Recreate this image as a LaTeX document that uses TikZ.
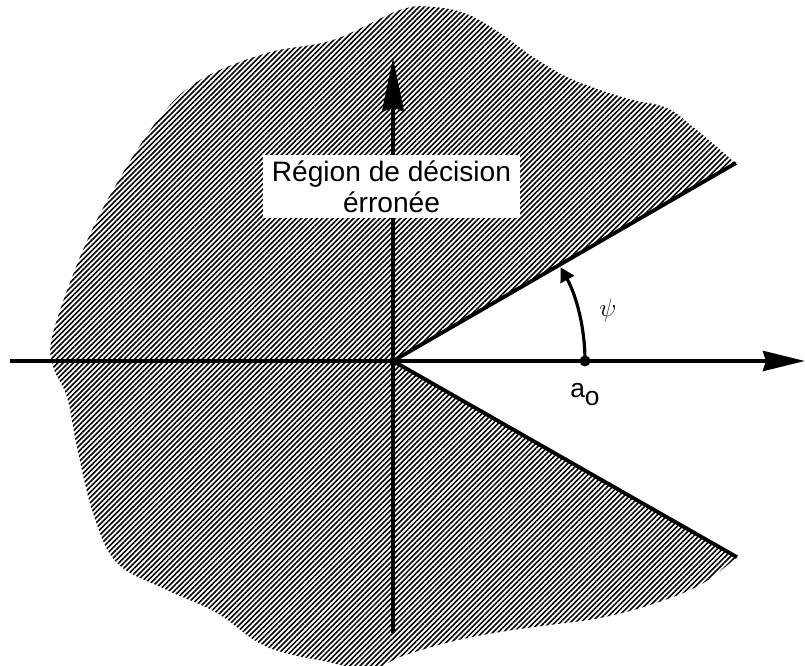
\documentclass[tikz,border=0pt]{standalone}
\usepackage{fontspec}
\setmainfont{Liberation Sans}
\usepackage{tikz}
\usetikzlibrary{arrows.meta, positioning, patterns.meta}

\begin{document}
\begin{tikzpicture}[
    axe/.style={line width=2.2pt},
    hachure/.style={pattern={Lines[angle=45, distance=2.1pt, line width=0.9pt]}},
    etiquette/.style={fill=white, align=center, inner sep=0pt,
                      minimum width=5.14cm, minimum height=1.26cm,
                      font=\fontsize{16}{17.5}\selectfont}
]
\useasboundingbox (-7.86,-6.10) rectangle (8.24,7.22);
\coordinate (O) at (0,0);
\coordinate (xl) at (-7.66,0);
\coordinate (xr) at (8.24,0);
\coordinate (yb) at (0,-5.44);
\coordinate (yt) at (0,6.06);
\coordinate (up) at (30:7.92);
\coordinate (lo) at (-29.7:7.92);
\fill[hachure] plot[smooth, tension=0.6] coordinates {
    (6.84,3.96) (6.48,4.28) (6.0,4.68) (5.48,5.06) (4.8,5.22) (4.14,5.42)
    (3.48,5.68) (2.8,6.08) (2.14,6.56) (1.48,6.94) (0.8,7.08) (0.14,7.02)
    (-1.2,6.42) (-2.52,6.16) (-3.86,5.62) (-4.66,4.88) (-5.52,3.56) (-6.2,2.22)
    (-6.8,0.56) (-6.8,-0.1) (-6.52,-0.72) (-6.32,-1.72) (-6.0,-3.04) (-5.52,-4.04)
    (-4.52,-4.58) (-3.52,-5.04) (-2.52,-5.72) (-1.2,-6.04) (-0.46,-6.2) (0.14,-5.92)
    (1.14,-5.62) (2.14,-5.42) (3.14,-5.28) (4.14,-5.14) (5.14,-4.88) (6.14,-4.48)
    (6.88,-3.92)} -- (O) -- cycle;
\draw[axe, -{Stealth[length=8.4mm, width=4mm, inset=0.6mm]}] (xl) -- (xr);
\draw[axe, -{Stealth[length=10.8mm, width=4.4mm, inset=1mm]}] (yb) -- (yt);
\draw[axe] (O) -- (up);
\draw[axe] (O) -- (lo);
\node[circle, fill, inner sep=0pt, minimum size=2.2mm] (a0) at (3.84,0) {};
\draw[line width=1.8pt, -{Triangle[length=2.8mm, width=3mm]}] (a0.center) arc[start angle=0, end angle=29.2, radius=3.84];
\node[font=\fontsize{15}{17}\selectfont] (psi) at (4.3,1.02) {$\psi$};
\node[below=0.2cm of a0, font=\fontsize{15}{17}\selectfont] (la0) {a\raisebox{-0.6ex}{o}};
\node[etiquette] (reg) at (-0.03,3.49) {Région de décision\\érronée};
\end{tikzpicture}
\end{document}
